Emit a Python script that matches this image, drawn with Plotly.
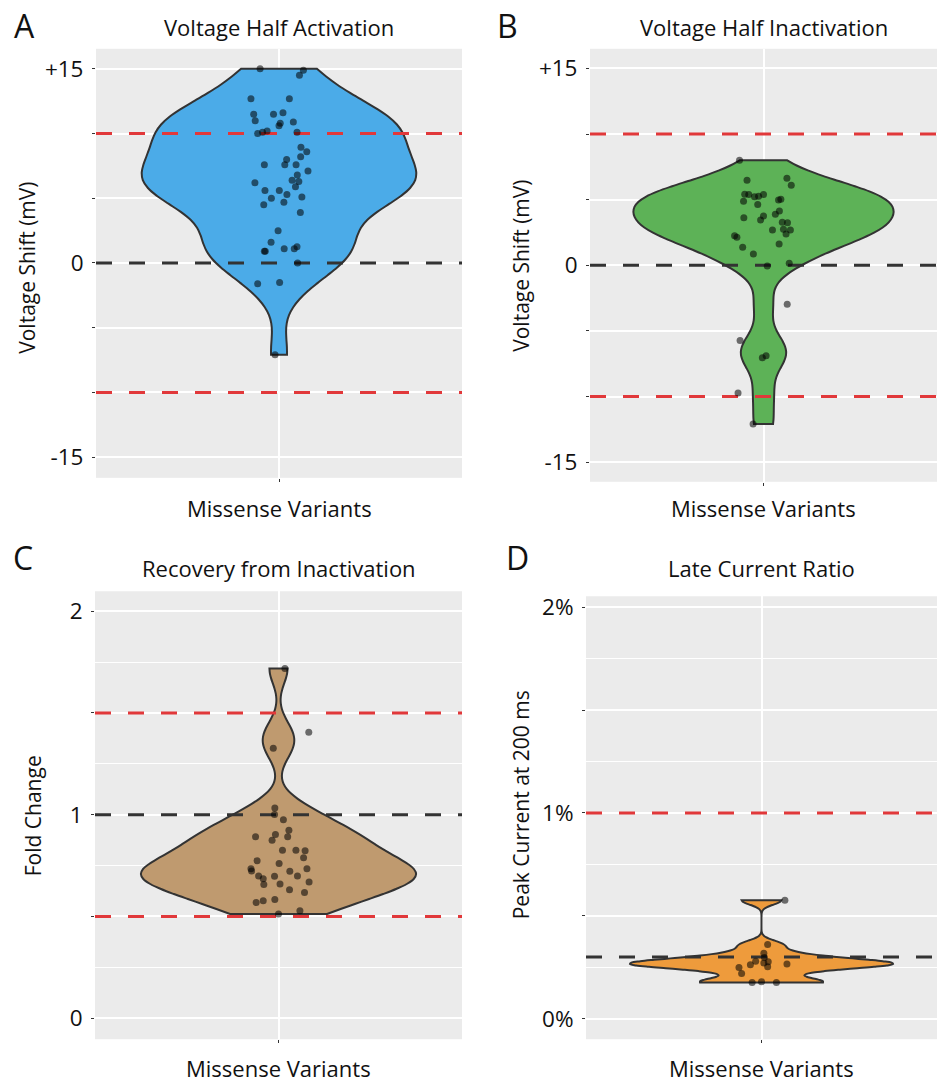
import numpy as np
import plotly.graph_objects as go

# ---------------- data ----------------
# A: shift of voltage of half activation (mV) and horizontal jitter of each point
act_shift = [15.0, 14.9, 14.5, 12.7, 12.7, 11.5, 11.5, 11.6, 11.0, 10.8, 10.6, 10.9,
             10.0, 10.1, 10.2, 10.1, 8.95, 8.6, 8.2, 8.0, 7.6, 7.6, 7.6, 7.1, 6.8,
             6.4, 6.3, 6.2, 5.9, 5.6, 5.6, 5.3, 5.1, 5.0, 4.7, 4.5, 3.9, 2.5, 1.6,
             0.9, 0.9, 1.1, 1.1, 1.25, 0.0, -1.6, -1.5, -7.1]
act_jitter = [-0.062, 0.080, 0.067, -0.092, 0.034, -0.083, -0.018, 0.013, -0.078, 0.004,
              0.0, 0.047, -0.070, -0.054, -0.039, 0.059, 0.072, 0.091, 0.071, 0.025,
              0.019, 0.056, -0.048, 0.095, 0.060, 0.043, 0.065, -0.079, 0.054, -0.046,
              0.001, 0.026, 0.075, -0.025, 0.016, -0.050, 0.070, -0.003, -0.026,
              -0.048, -0.045, 0.017, 0.050, 0.059, 0.061, -0.070, 0.002, -0.013]

# B: shift of voltage of half inactivation (mV)
inact_shift = [8.0, 6.49, 6.64, 6.11, 5.42, 5.40, 5.22, 5.27, 5.40, 4.89, 4.64, 4.97,
               5.04, 3.62, 3.45, 3.75, 3.90, 4.13, 3.29, 3.24, 2.69, 2.74, 2.69, 2.38,
               2.26, 2.13, 1.62, 1.37, 0.86, -0.05, 0.15, -2.97, -5.73, -7.05, -6.89,
               -9.73, -12.1]
inact_jitter = [-0.083, -0.057, 0.081, 0.096, -0.065, -0.051, -0.031, -0.017, 0.0, -0.069,
                -0.020, 0.052, 0.060, -0.068, -0.010, 0.0, 0.041, 0.055, 0.065, 0.083,
                0.031, 0.069, 0.093, 0.078, -0.100, -0.092, 0.054, -0.072, -0.035,
                0.013, 0.089, 0.082, -0.081, -0.004, 0.009, -0.088, -0.036]

# C: recovery from inactivation (fold change)
recovery_fold = [1.718, 1.405, 1.327, 1.033, 1.001, 0.975, 0.924, 0.892, 0.903, 0.875,
                 0.892, 0.826, 0.826, 0.823, 0.789, 0.774, 0.760, 0.735, 0.724, 0.735,
                 0.722, 0.699, 0.686, 0.698, 0.699, 0.657, 0.660, 0.670, 0.632, 0.618,
                 0.569, 0.578, 0.583, 0.512, 0.528]
recovery_jitter = [0.021, 0.099, -0.017, -0.012, -0.013, 0.016, 0.034, -0.075, -0.010,
                   -0.021, 0.030, 0.013, 0.057, 0.087, 0.082, -0.070, 0.002, -0.090,
                   -0.088, 0.093, 0.037, -0.065, -0.050, -0.013, 0.062, -0.048, 0.005,
                   0.100, 0.036, 0.085, -0.073, -0.050, -0.012, 0.0, 0.070]

# D: late current as percent of peak current at 200 ms
late_pct = [0.575, 0.360, 0.318, 0.297, 0.276, 0.279, 0.262, 0.271, 0.252, 0.249,
            0.220, 0.266, 0.176, 0.179, 0.176]
late_jitter = [0.080, 0.021, 0.008, 0.010, 0.023, -0.020, -0.038, 0.008, 0.021, -0.077,
               -0.068, 0.087, -0.032, 0.0, 0.051]

# reference thresholds: (red limits, black baseline)
act_limits, act_base = [10, -10], [0]
inact_limits, inact_base = [10, -10], [0]
recovery_limits, recovery_base = [1.5, 0.5], [1]
late_limits, late_base = [1.0], [0.3]

titles = ["Voltage Half Activation", "Voltage Half Inactivation",
          "Recovery from Inactivation", "Late Current Ratio"]
ytitles = ["Voltage Shift (mV)", "Voltage Shift (mV)", "Fold Change",
           "Peak Current at 200 ms"]
letters = ["A", "B", "C", "D"]
category = "Missense Variants"
fills = ["#4BABE8", "#5DB257", "#BF9A6F", "#EE9B3C"]

# ---------------- layout geometry ----------------
W, H = 937, 1086
panels = [  # (left, right, top, bottom) in pixels
    (96, 462, 44, 475),
    (590, 937, 44, 479),
    (95, 462, 589, 1039),
    (586, 937, 594, 1039),
]
title_y = [22, 22, 566, 566]
cat_y = [505, 505, 1068, 1068]
ytitle_x = [27, 521, 33, 521]
ytitle_y = [264, 262, 815, 804]
letter_pos = [(24, 21), (507, 21), (23, 555), (517, 555)]
yranges = [[-16.6, 16.55], [-16.5, 16.5], [-0.103, 2.098], [-0.10, 2.053]]
XR = [-0.6, 0.6]

FONT = "Open Sans"
TXT = "#111111"
GRID = "white"
BG = "#EBEBEB"


def nrd0(v):
    v = np.asarray(v, float)
    sd = v.std(ddof=1)
    iqr = np.subtract(*np.percentile(v, [75, 25]))
    lo = min(sd, iqr / 1.34) if iqr > 0 else sd
    return 0.9 * lo * len(v) ** -0.2


fig = go.Figure()

series = [
    (act_shift, act_jitter, act_limits, act_base),
    (inact_shift, inact_jitter, inact_limits, inact_base),
    (recovery_fold, recovery_jitter, recovery_limits, recovery_base),
    (late_pct, late_jitter, late_limits, late_base),
]

for i, (vals, jit, limits, base) in enumerate(series):
    xa = "x" if i == 0 else f"x{i+1}"
    ya = "y" if i == 0 else f"y{i+1}"
    fig.add_trace(go.Violin(
        x=[0] * len(vals), y=vals, xaxis=xa, yaxis=ya,
        width=0.9, scalemode="width", spanmode="hard", bandwidth=nrd0(vals),
        fillcolor=fills[i], line=dict(color="#333333", width=2),
        points=False, box_visible=False, meanline_visible=False,
        opacity=1, showlegend=False, hoverinfo="skip"))
    for lv in limits:
        fig.add_trace(go.Scatter(
            x=XR, y=[lv, lv], xaxis=xa, yaxis=ya, mode="lines",
            line=dict(color="#E1383A", width=3, dash="16px,17px"),
            showlegend=False, hoverinfo="skip"))
    for bv in base:
        fig.add_trace(go.Scatter(
            x=XR, y=[bv, bv], xaxis=xa, yaxis=ya, mode="lines",
            line=dict(color="#333333", width=3, dash="16px,17px"),
            showlegend=False, hoverinfo="skip"))
    fig.add_trace(go.Scatter(
        x=jit, y=vals, xaxis=xa, yaxis=ya, mode="markers",
        marker=dict(color="rgba(0,0,0,0.55)", size=7, line=dict(width=0)),
        showlegend=False, hoverinfo="skip"))

# axis ticks
volt_ticks = [-15, -10, -5, 0, 5, 10, 15]
volt_text = ["-15", "", "", "0", "", "", "+15"]
ratio_ticks = [0, 0.5, 1, 1.5, 2]
ratio_text = ["0", "", "1", "", "2"]
pct_text = ["0%", "", "1%", "", "2%"]
minor_ticks = [0.25, 0.75, 1.25, 1.75]
tick_sets = [(volt_ticks, volt_text, None), (volt_ticks, volt_text, None),
             (ratio_ticks, ratio_text, minor_ticks), (ratio_ticks, pct_text, minor_ticks)]

annotations = []
for i, (l, r, t, b) in enumerate(panels):
    xs = "xaxis" if i == 0 else f"xaxis{i+1}"
    ys = "yaxis" if i == 0 else f"yaxis{i+1}"
    anchor_x = "y" if i == 0 else f"y{i+1}"
    anchor_y = "x" if i == 0 else f"x{i+1}"
    tv, tt, mn = tick_sets[i]
    fig.layout[xs] = dict(
        domain=[l / W, r / W], anchor=anchor_x, range=XR,
        tickvals=[0], ticktext=[""], ticks="outside", ticklen=3, tickcolor="#333333",
        tickwidth=1, showgrid=True, gridcolor=GRID, gridwidth=2,
        zeroline=False, showline=False, fixedrange=True)
    ydict = dict(
        domain=[1 - b / H, 1 - t / H], anchor=anchor_y, range=yranges[i],
        tickvals=tv, ticktext=tt, ticks="outside", ticklen=3, tickcolor="#333333",
        tickwidth=1, showgrid=True, gridcolor=GRID, gridwidth=1.6,
        zeroline=False, showline=False, ticklabelstandoff=4,
        tickfont=dict(family=FONT, size=22.5, color=TXT))
    if mn:
        ydict["minor"] = dict(tickvals=mn, showgrid=True, gridcolor=GRID,
                              gridwidth=1, ticks="")
    fig.layout[ys] = ydict

    cx = (l + r) / 2
    # panel title
    annotations.append(dict(x=cx / W, y=1 - title_y[i] / H, xref="paper", yref="paper",
                            text=titles[i], showarrow=False, xanchor="center",
                            yanchor="middle", font=dict(family=FONT, size=22, color=TXT)))
    # category label under the panel
    annotations.append(dict(x=cx / W, y=1 - cat_y[i] / H, xref="paper", yref="paper",
                            text=category, showarrow=False, xanchor="center",
                            yanchor="middle", font=dict(family=FONT, size=22, color=TXT)))
    # y axis title
    annotations.append(dict(x=ytitle_x[i] / W, y=1 - ytitle_y[i] / H, xref="paper",
                            yref="paper", text=ytitles[i], showarrow=False, textangle=-90,
                            xanchor="center", yanchor="middle",
                            font=dict(family=FONT, size=21, color=TXT)))

for (lx, ly), ch in zip(letter_pos, letters):
    annotations.append(dict(x=lx / W, y=1 - ly / H, xref="paper", yref="paper", text=ch,
                            showarrow=False, xanchor="center", yanchor="middle",
                            font=dict(family=FONT, size=32, color=TXT)))

fig.update_layout(
    width=W, height=H, margin=dict(l=0, r=0, t=0, b=0),
    paper_bgcolor="white", plot_bgcolor=BG, annotations=annotations,
    showlegend=False)

fig.write_html("out.html")
